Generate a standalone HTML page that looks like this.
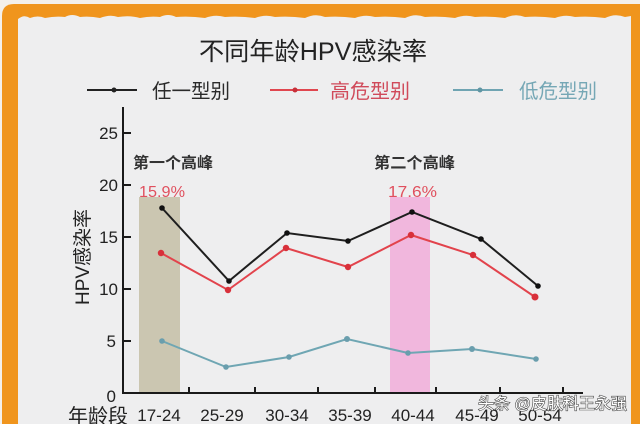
<!DOCTYPE html>
<html><head><meta charset="utf-8"><style>
html,body{margin:0;padding:0;background:#f4f0ea;width:640px;height:424px;overflow:hidden;}
svg{display:block;}
text{font-family:"Liberation Sans","Noto Sans CJK SC",sans-serif;}
</style></head><body>
<svg width="640" height="424" viewBox="0 0 640 424" xmlns="http://www.w3.org/2000/svg">
<rect x="0" y="0" width="640" height="424" fill="#f4f0ea"/>
<path d="M2,424 L2,16 Q2,4 14,4 L640,4 L640,424 Z" fill="#f0951d"/>
<path d="M18,19 Q24,14 30,18 Q38,15 45,18 Q55,16 65,17 Q72,13 80,17 Q90,16 100,18 Q110,14 118,17 Q130,15 140,18 Q150,16 160,17 Q168,13 176,17 Q190,16 205,18 Q215,14 225,17 Q240,16 255,18 Q265,14 275,17 Q290,16 305,18 Q315,13 325,17 Q340,16 355,18 Q365,14 375,17 Q390,16 405,18 Q415,13 425,17 Q440,16 455,18 Q465,14 475,17 Q490,16 505,18 Q515,13 525,17 Q540,16 555,18 Q565,14 575,17 Q590,16 605,18 Q615,13 625,17 L631,16 L631,424 L18,424 Z" fill="#eeeeef"/>

<!-- title -->
<text x="199" y="60" font-size="25" fill="#222" textLength="228" lengthAdjust="spacingAndGlyphs">不同年龄HPV感染率</text>

<!-- legend -->
<line x1="87" y1="90" x2="137" y2="90" stroke="#222" stroke-width="2"/>
<circle cx="114" cy="90" r="2.5" fill="#222"/>
<text x="152" y="98" font-size="20" fill="#2a2a2a" textLength="78" lengthAdjust="spacingAndGlyphs">任一型别</text>
<line x1="270" y1="90" x2="318" y2="90" stroke="#e0464f" stroke-width="2"/>
<circle cx="295" cy="90" r="2.5" fill="#c8303a"/>
<text x="330" y="98" font-size="20" fill="#d04a5a" textLength="80" lengthAdjust="spacingAndGlyphs">高危型别</text>
<line x1="453" y1="90" x2="503" y2="90" stroke="#6fa4b2" stroke-width="2"/>
<circle cx="480" cy="90" r="2.5" fill="#5f95a3"/>
<text x="519" y="98" font-size="20" fill="#75a7b5" textLength="78" lengthAdjust="spacingAndGlyphs">低危型别</text>

<!-- bands -->
<rect x="139" y="197" width="41" height="196" fill="#cbc6b1"/>
<rect x="390" y="197" width="40" height="196" fill="#f1b7dd"/>

<!-- annotations -->
<text x="133" y="168" font-size="15.5" font-weight="bold" fill="#333" textLength="80" lengthAdjust="spacingAndGlyphs">第一个高峰</text>
<text x="374" y="168" font-size="15.5" font-weight="bold" fill="#333" textLength="81" lengthAdjust="spacingAndGlyphs">第二个高峰</text>
<text x="139" y="197" font-size="16" fill="#e0505e" textLength="46" lengthAdjust="spacingAndGlyphs">15.9%</text>
<text x="388" y="197" font-size="16" fill="#e0505e" textLength="49" lengthAdjust="spacingAndGlyphs">17.6%</text>

<!-- axes -->
<line x1="123" y1="107" x2="123" y2="394" stroke="#1a1a1a" stroke-width="2"/>
<line x1="122" y1="393" x2="583" y2="393" stroke="#1a1a1a" stroke-width="2"/>
<g stroke="#1a1a1a" stroke-width="2">
<line x1="123" y1="133" x2="131" y2="133"/>
<line x1="123" y1="185" x2="131" y2="185"/>
<line x1="123" y1="237" x2="131" y2="237"/>
<line x1="123" y1="289" x2="131" y2="289"/>
<line x1="123" y1="341" x2="131" y2="341"/>
<line x1="189" y1="393" x2="189" y2="387"/>
<line x1="255" y1="393" x2="255" y2="387"/>
<line x1="318" y1="393" x2="318" y2="387"/>
<line x1="375" y1="393" x2="375" y2="387"/>
<line x1="436" y1="393" x2="436" y2="387"/>
<line x1="500" y1="393" x2="500" y2="387"/>
<line x1="563" y1="393" x2="563" y2="387"/>
</g>
<g font-size="17" fill="#222" text-anchor="end">
<text x="118" y="139">25</text>
<text x="118" y="191">20</text>
<text x="118" y="243">15</text>
<text x="118" y="295">10</text>
<text x="116" y="347">5</text>
<text x="116" y="402">0</text>
</g>
<g font-size="17" fill="#222" text-anchor="middle">
<text x="159" y="421">17-24</text>
<text x="222" y="421">25-29</text>
<text x="287" y="421">30-34</text>
<text x="350" y="421">35-39</text>
<text x="413" y="421">40-44</text>
<text x="477" y="421">45-49</text>
<text x="540" y="421">50-54</text>
</g>
<text x="68" y="423" font-size="20" fill="#222" textLength="60" lengthAdjust="spacingAndGlyphs">年龄段</text>
<text transform="translate(89,257) rotate(-90)" font-size="19" fill="#222" text-anchor="middle" textLength="96" lengthAdjust="spacingAndGlyphs">HPV感染率</text>

<!-- series -->
<polyline points="162,208 229,281 287,233 348,241 412,212 481,239 538,286" fill="none" stroke="#1e1e1e" stroke-width="2"/>
<g fill="#111">
<circle cx="162" cy="208" r="2.8"/><circle cx="229" cy="281" r="2.8"/><circle cx="287" cy="233" r="2.8"/><circle cx="348" cy="241" r="2.8"/><circle cx="412" cy="212" r="2.8"/><circle cx="481" cy="239" r="2.8"/><circle cx="538" cy="286" r="2.8"/>
</g>
<polyline points="161,253 228,290 286,248 348,267 411,235 473,255 535,297" fill="none" stroke="#e2434c" stroke-width="2"/>
<g fill="#d8303a">
<circle cx="161" cy="253" r="3.2"/><circle cx="228" cy="290" r="3.2"/><circle cx="286" cy="248" r="3.2"/><circle cx="348" cy="267" r="3.2"/><circle cx="411" cy="235" r="3.2"/><circle cx="473" cy="255" r="3.2"/><circle cx="535" cy="297" r="3.5"/>
</g>
<polyline points="162,341 226,367 289,357 347,339 408,353 472,349 536,359" fill="none" stroke="#6fa6b3" stroke-width="2"/>
<g fill="#6a9ead">
<circle cx="162" cy="341" r="2.8"/><circle cx="226" cy="367" r="2.8"/><circle cx="289" cy="357" r="2.8"/><circle cx="347" cy="339" r="3"/><circle cx="408" cy="353" r="2.8"/><circle cx="472" cy="349" r="3"/><circle cx="536" cy="359" r="2.8"/>
</g>

<!-- watermark -->
<text x="478" y="409" font-size="16" fill="#ffffff" stroke="#4a4a4a" stroke-width="1.2" paint-order="stroke" textLength="149" lengthAdjust="spacingAndGlyphs">头条 @皮肤科王永强</text>
</svg>
</body></html>
